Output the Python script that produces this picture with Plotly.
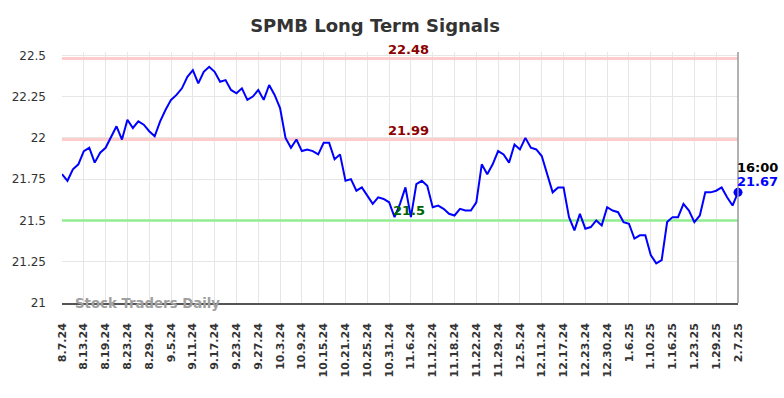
import plotly.graph_objects as go

tick_labels = ["8.7.24", "8.13.24", "8.19.24", "8.23.24", "8.29.24", "9.5.24", "9.11.24",
               "9.17.24", "9.23.24", "9.27.24", "10.3.24", "10.9.24", "10.15.24", "10.21.24",
               "10.25.24", "10.31.24", "11.6.24", "11.12.24", "11.18.24", "11.22.24",
               "11.29.24", "12.5.24", "12.11.24", "12.17.24", "12.23.24", "12.30.24",
               "1.6.25", "1.10.25", "1.16.25", "1.23.25", "1.29.25", "2.7.25"]

prices = [21.78, 21.74, 21.81, 21.84, 21.92, 21.94, 21.85, 21.91, 21.94, 22.01,
          22.07, 21.99, 22.11, 22.06, 22.10, 22.08, 22.04, 22.01, 22.10, 22.17,
          22.23, 22.26, 22.30, 22.37, 22.41, 22.33, 22.40, 22.43, 22.40, 22.34,
          22.35, 22.29, 22.27, 22.30, 22.23, 22.25, 22.29, 22.23, 22.32, 22.26,
          22.18, 22.00, 21.94, 21.99, 21.92, 21.93, 21.92, 21.90, 21.97, 21.97,
          21.87, 21.90, 21.74, 21.75, 21.68, 21.70, 21.65, 21.60, 21.64, 21.63,
          21.61, 21.52, 21.60, 21.70, 21.52, 21.72, 21.74, 21.71, 21.58, 21.59,
          21.57, 21.54, 21.53, 21.57, 21.56, 21.56, 21.61, 21.84, 21.78, 21.84,
          21.92, 21.90, 21.85, 21.96, 21.93, 22.00, 21.94, 21.93, 21.89, 21.78,
          21.67, 21.70, 21.70, 21.52, 21.44, 21.54, 21.45, 21.46, 21.50, 21.47,
          21.58, 21.56, 21.55, 21.49, 21.48, 21.39, 21.41, 21.41, 21.29, 21.24,
          21.26, 21.49, 21.52, 21.52, 21.60, 21.56, 21.49, 21.53, 21.67, 21.67,
          21.68, 21.70, 21.64, 21.59, 21.67]

upper_levels = [22.48, 21.99]
lower_level = 21.5
last_time = "16:00"
title_text = "SPMB Long Term Signals"
watermark = "Stock Traders Daily"
y_ticks = [21, 21.25, 21.5, 21.75, 22, 22.25, 22.5]

FONT = "DejaVu Sans"
x = list(range(len(prices)))
tick_vals = x[::4]

fig = go.Figure()

for lv in upper_levels:
    fig.add_trace(go.Scatter(x=[x[0], x[-1]], y=[lv, lv], mode="lines",
                             line=dict(color="#ffcccc", width=3), hoverinfo="skip",
                             showlegend=False))
    fig.add_annotation(x=0.513, xref="paper", y=lv, yref="y", text=f"<b>{lv}</b>",
                       showarrow=False, yanchor="bottom", xanchor="center",
                       font=dict(family=FONT, size=13, color="#8b0000"))
fig.add_trace(go.Scatter(x=[x[0], x[-1]], y=[lower_level, lower_level], mode="lines",
                         line=dict(color="#90ee90", width=2.5), hoverinfo="skip",
                         showlegend=False))
fig.add_annotation(x=0.513, xref="paper", y=lower_level, yref="y", text=f"<b>{lower_level}</b>",
                   showarrow=False, yanchor="bottom", xanchor="center",
                   font=dict(family=FONT, size=13, color="#006400"))

fig.add_trace(go.Scatter(x=x, y=prices, mode="lines",
                         line=dict(color="#0000ff", width=2), hoverinfo="skip",
                         showlegend=False))
fig.add_trace(go.Scatter(x=[x[-1]], y=[prices[-1]], mode="markers",
                         marker=dict(color="#0000ff", size=9), showlegend=False,
                         hoverinfo="skip", cliponaxis=False))

fig.add_annotation(x=x[-1], y=prices[-1], text=f"<b>{last_time}</b>", showarrow=False,
                   xanchor="left", yanchor="bottom", yshift=15, xshift=-3,
                   font=dict(family=FONT, size=13, color="#000000"))
fig.add_annotation(x=x[-1], y=prices[-1], text=f"<b>{prices[-1]}</b>", showarrow=False,
                   xanchor="left", yanchor="bottom", yshift=1, xshift=-3,
                   font=dict(family=FONT, size=13, color="#0000ff"))

fig.add_annotation(x=0.016, xref="paper", y=y_ticks[0], yref="y", text=f"<b>{watermark}</b>",
                   showarrow=False, xanchor="left", yanchor="middle",
                   font=dict(family=FONT, size=13.3, color="#a0a0a0"))

fig.add_shape(type="line", xref="paper", yref="paper", x0=1, x1=1, y0=0, y1=1,
              line=dict(color="#999999", width=1.5))

fig.update_layout(
    width=784, height=398,
    margin=dict(l=62, r=46, t=52, b=95),
    paper_bgcolor="white", plot_bgcolor="white",
    hovermode=False,
    title=dict(text=f"<b>{title_text}</b>", x=375 / 784, xref="container", xanchor="center",
               y=1 - 25.5 / 398, yref="container", yanchor="middle",
               font=dict(family=FONT, size=18, color="#333333")),
    xaxis=dict(range=[x[0], x[-1]], tickvals=tick_vals, ticktext=[f"<b>{t}</b>" for t in tick_labels],
               tickangle=-90, showgrid=True, gridcolor="#e6e6e6", gridwidth=1,
               showline=True, linecolor="#555555", linewidth=1.5, zeroline=False,
               ticks="", ticklabelstandoff=14, automargin=False, fixedrange=True,
               tickfont=dict(family=FONT, size=11, color="#333333")),
    yaxis=dict(range=[21, 22.52], tickvals=y_ticks, ticktext=[f"{v:g}" for v in y_ticks],
               showgrid=True, gridcolor="#e6e6e6", gridwidth=1, zeroline=False,
               showline=False, ticks="", ticklabelstandoff=15, automargin=False, fixedrange=True,
               tickfont=dict(family=FONT, size=12, color="#333333")),
)

fig.write_html("out.html", config={"displayModeBar": False},
               post_script="document.body.style.margin='0px';")
